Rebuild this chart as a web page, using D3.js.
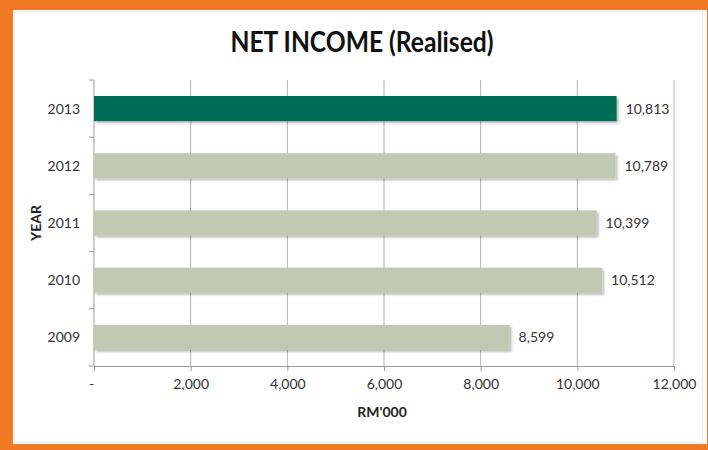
<!DOCTYPE html>
<html lang="en">
  <head>
    <meta charset="utf-8">
    <title>Net Income (Realised)</title>
    <script src="https://d3js.org/d3.v7.min.js"></script>
    <style>
      body { margin: 0; background: #fff; overflow: hidden; }
      svg { display: block; }
      .xAxis text, .yAxis text { font: 14px Lato, "Open Sans", sans-serif; fill: #333; }
    </style>
  </head>
  <body>
    <div id="chart"></div>
    <script>
      var years = ["2013", "2012", "2011", "2010", "2009"];
      var values = [10813, 10789, 10399, 10512, 8599];
      var xTicks = [0, 2000, 4000, 6000, 8000, 10000, 12000];

      var w = 708, h = 450;
      var margin = {top: 80, right: 34, bottom: 84, left: 94};
      var innerWidth = w - margin.left - margin.right;
      var innerHeight = h - margin.top - margin.bottom;

      var svg = d3.select("#chart").append("svg")
                  .attr("width", w).attr("height", h);

      // orange frame
      svg.append("rect").attr("x", 0).attr("y", 0).attr("width", w).attr("height", h).attr("fill", "#f27a24");
      svg.append("rect").attr("x", 13).attr("y", 10).attr("width", w - 14).attr("height", 434).attr("fill", "#fff");
      svg.append("rect").attr("x", 14.5).attr("y", 11.5).attr("width", 688).attr("height", 431)
         .attr("fill", "none").attr("stroke", "#ececec");

      var defs = svg.append("defs");
      var f = defs.append("filter").attr("id", "shadow").attr("x", "-5%").attr("y", "-20%").attr("width", "115%").attr("height", "160%");
      f.append("feDropShadow").attr("dx", 2).attr("dy", 2).attr("stdDeviation", 1.2)
       .attr("flood-color", "#000").attr("flood-opacity", 0.25);

      var xScale = d3.scaleLinear().domain([0, 12000]).range([0, innerWidth]);
      var yScale = d3.scaleBand().domain(years).range([0, innerHeight])
                     .paddingInner(0.56).paddingOuter(0.28);

      var g = svg.append("g").attr("transform", `translate(${margin.left},${margin.top})`);

      // gridlines
      g.selectAll("line.grid").data(xTicks.slice(1)).enter().append("line")
        .attr("class", "grid")
        .attr("x1", d => xScale(d)).attr("x2", d => xScale(d))
        .attr("y1", 0).attr("y2", innerHeight)
        .attr("stroke", "#b4b4b4").attr("stroke-width", 1);

      var xAxis = d3.axisBottom(xScale).tickValues(xTicks).tickSize(5).tickPadding(8)
                    .tickFormat(d => d === 0 ? "-" : d3.format(",")(d));
      var gx = g.append("g").attr("class", "xAxis")
                .attr("transform", `translate(0,${innerHeight})`).call(xAxis);
      gx.selectAll("path, line").attr("stroke", "#999");
      gx.selectAll("text").filter(d => d === 0).attr("dx", -3);

      var yTickScale = d3.scaleLinear().domain([0, 5]).range([0, innerHeight]);
      var gy = g.append("g").attr("class", "yAxis");
      gy.append("line").attr("x1", 0).attr("x2", 0).attr("y1", 0).attr("y2", innerHeight).attr("stroke", "#999");
      gy.selectAll("line.tick").data(d3.range(6)).enter().append("line")
        .attr("x1", -5).attr("x2", 0)
        .attr("y1", d => yTickScale(d)).attr("y2", d => yTickScale(d)).attr("stroke", "#999");
      gy.selectAll("text").data(years).enter().append("text")
        .attr("x", -14).attr("y", d => yScale(d) + yScale.bandwidth() / 2)
        .attr("dy", "0.35em").attr("text-anchor", "end").text(d => d);

      g.selectAll("rect.bar").data(values).enter().append("rect")
        .attr("class", "bar")
        .attr("x", 0)
        .attr("y", (d, i) => yScale(years[i]))
        .attr("width", d => xScale(d))
        .attr("height", yScale.bandwidth())
        .attr("fill", (d, i) => i === 0 ? "#006d55" : "#c1c9b2")
        .attr("filter", "url(#shadow)");

      g.selectAll("text.val").data(values).enter().append("text")
        .attr("class", "val")
        .attr("x", d => xScale(d) + 9)
        .attr("y", (d, i) => yScale(years[i]) + yScale.bandwidth() / 2)
        .attr("dy", "0.35em")
        .attr("font-family", "Lato, 'Open Sans', sans-serif").attr("font-size", 14).attr("fill", "#333")
        .text(d => d3.format(",")(d));

      svg.append("text")
        .attr("transform", "translate(362,52) scale(0.88,1)")
        .attr("text-anchor", "middle")
        .attr("font-family", "Lato, 'Open Sans', sans-serif").attr("font-weight", "bold").attr("font-size", 28)
        .attr("fill", "#111")
        .text("NET INCOME (Realised)");

      svg.append("text").attr("x", margin.left + innerWidth / 2 - 2).attr("y", 417)
        .attr("text-anchor", "middle")
        .attr("font-family", "Lato, 'Open Sans', sans-serif").attr("font-weight", "bold").attr("font-size", 14)
        .attr("fill", "#222")
        .text("RM'000");

      svg.append("text")
        .attr("transform", "translate(41,223) rotate(-90)")
        .attr("text-anchor", "middle")
        .attr("font-family", "Lato, 'Open Sans', sans-serif").attr("font-weight", "bold").attr("font-size", 14)
        .attr("fill", "#222")
        .text("YEAR");
    </script>
  </body>
</html>
